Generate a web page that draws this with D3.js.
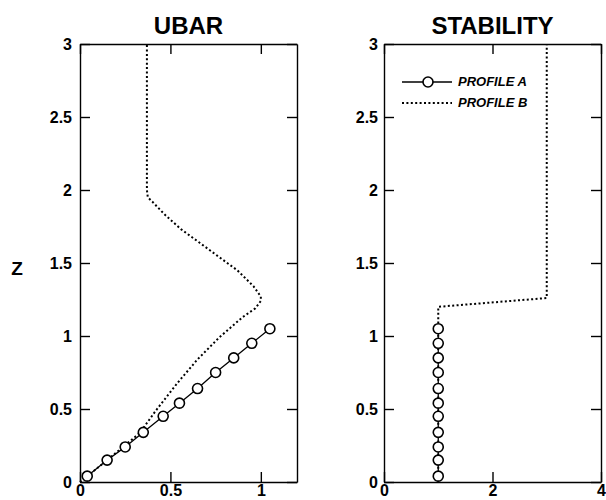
<!DOCTYPE html>
<html>
<head>
<meta charset="utf-8">
<script src="https://cdn.jsdelivr.net/npm/d3@7"></script>
<style>
body{margin:0;background:#fff}
svg{display:block}
text{font-family:"Liberation Sans",Arial,sans-serif}
</style>
</head>
<body>
<svg id="chart" width="606" height="500"></svg>
<script>
// profile A (circles)
var zA=[0.04,0.15,0.24,0.34,0.45,0.54,0.64,0.75,0.85,0.95,1.05];
var ubarA=[0.04,0.15,0.25,0.35,0.46,0.55,0.65,0.75,0.85,0.95,1.05];
var stabA=[1,1,1,1,1,1,1,1,1,1,1];
// profile B (dotted)
var zB=[0,0.15,0.335,0.49,0.68,0.84,0.99,1.13,1.19,1.24,1.27,1.34,1.45,1.54,1.64,1.73,1.83,1.92,1.95,2.0,3.0];
var ubarB=[0,0.15,0.33,0.42,0.54,0.65,0.77,0.90,0.97,1.0,1.0,0.96,0.87,0.77,0.66,0.56,0.47,0.40,0.375,0.37,0.37];
var zStabB=[0,1.2,1.26,3];
var stabB=[1,1,3,3];
// ticks / labels
var zTicks=[0,0.5,1,1.5,2,2.5,3];
var ubarTicks=[0,0.5,1];
var stabTicks=[0,2,4];
var titles=["UBAR","STABILITY"];
var legendLabels=["PROFILE A","PROFILE B"];

var plotTop=44,plotBottom=482;
var svg=d3.select("#chart");

var yScale=d3.scaleLinear().domain([0,3]).range([plotBottom,plotTop]);

function drawPanel(left,right,xDomain,xTicks,title,valsA,valsB,zValsB,labelPad){
    var xScale=d3.scaleLinear().domain(xDomain).range([left,right]);
    var g=svg.append("g");

    //坐标轴 (ticks point inward)
    g.append("g")
    .attr("transform","translate(0,"+plotBottom+")")
    .call(d3.axisBottom(xScale).tickValues(xTicks).tickSizeInner(-10).tickSizeOuter(0).tickPadding(3).tickFormat(d=>d));
    g.append("g")
    .attr("transform","translate(0,"+plotTop+")")
    .call(d3.axisTop(xScale).tickValues(xTicks).tickSizeInner(-10).tickSizeOuter(0).tickFormat(""));
    g.append("g")
    .attr("transform","translate("+left+",0)")
    .call(d3.axisLeft(yScale).tickValues(zTicks).tickSizeInner(-10).tickSizeOuter(0).tickPadding(labelPad).tickFormat(d=>d));
    g.append("g")
    .attr("transform","translate("+right+",0)")
    .call(d3.axisRight(yScale).tickValues(zTicks).tickSizeInner(-10).tickSizeOuter(0).tickFormat(""));
    g.selectAll("g")
    .attr("font-size",16)
    .attr("font-weight","bold")
    .attr("font-family","Liberation Sans, Arial, sans-serif");
    g.selectAll(".domain,.tick line").attr("stroke-width",1.4);

    //profile B
    var lineB=d3.line()
    .x((d,i)=>xScale(valsB[i]))
    .y(d=>yScale(d));
    g.append("path")
    .attr("d",lineB(zValsB))
    .attr("fill","none")
    .attr("stroke","#000")
    .attr("stroke-width",2)
    .attr("stroke-dasharray","2,2.4");

    //profile A
    var lineA=d3.line()
    .x((d,i)=>xScale(valsA[i]))
    .y(d=>yScale(d));
    g.append("path")
    .attr("d",lineA(zA))
    .attr("fill","none")
    .attr("stroke","#000")
    .attr("stroke-width",1.3);
    g.selectAll("circle")
    .data(zA)
    .enter()
    .append("circle")
    .attr("cx",(d,i)=>xScale(valsA[i]))
    .attr("cy",d=>yScale(d))
    .attr("r",5)
    .attr("fill","#fff")
    .attr("stroke","#000")
    .attr("stroke-width",1.6);

    g.append("text")
    .attr("x",(left+right)/2)
    .attr("y",34)
    .attr("text-anchor","middle")
    .attr("font-size",24)
    .attr("font-weight","bold")
    .text(title);
    return g;
}

drawPanel(80,297,[0,1.2],ubarTicks,titles[0],ubarA,ubarB,zB,8);
var right=drawPanel(384,601,[0,4],stabTicks,titles[1],stabA,stabB,zStabB,6);

svg.append("text")
.attr("x",17)
.attr("y",275)
.attr("text-anchor","middle")
.attr("font-size",19)
.attr("font-weight","bold")
.text("Z");

//图例
var legend=right.append("g");
legend.append("line")
.attr("x1",402).attr("x2",452).attr("y1",82).attr("y2",82)
.attr("stroke","#000").attr("stroke-width",1.3);
legend.append("circle")
.attr("cx",428).attr("cy",82).attr("r",5)
.attr("fill","#fff").attr("stroke","#000").attr("stroke-width",1.6);
legend.append("line")
.attr("x1",402).attr("x2",452).attr("y1",103).attr("y2",103)
.attr("stroke","#000").attr("stroke-width",2).attr("stroke-dasharray","2,2.4");
legend.selectAll("text")
.data(legendLabels)
.enter()
.append("text")
.attr("x",458)
.attr("y",(d,i)=>86+i*21)
.attr("font-size",13)
.attr("font-style","italic")
.attr("font-weight","bold")
.text(d=>d);
</script>
</body>
</html>
